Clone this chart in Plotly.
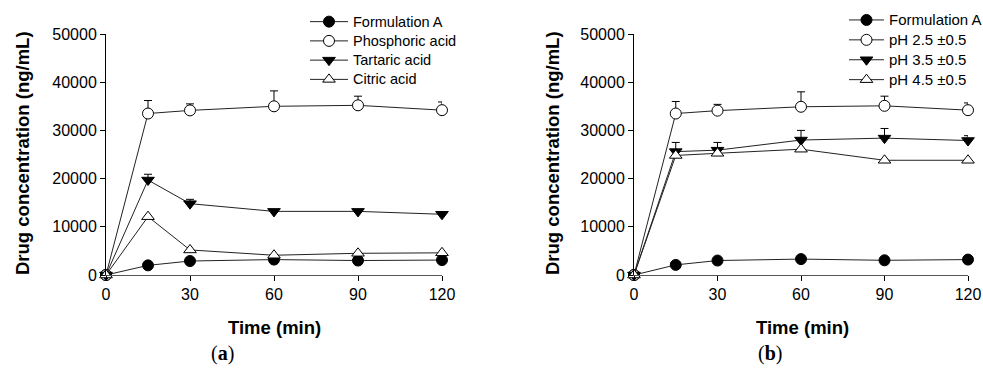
import plotly.graph_objects as go

W, H = 983, 374

time_min = [0, 15, 30, 60, 90, 120]
x_ticks = [0, 30, 60, 90, 120]
y_ticks = [0, 10000, 20000, 30000, 40000, 50000]

# Panel (a)
a_names = ["Formulation A", "Phosphoric acid", "Tartaric acid", "Citric acid"]
a_form = [0, 2000, 2900, 3200, 3000, 3100]
a_phos = [0, 33500, 34150, 35000, 35200, 34200]
a_phos_sd = [0, 2700, 1350, 3200, 1900, 1700]
a_tart = [0, 19700, 14800, 13200, 13200, 12600]
a_tart_sd = [0, 1200, 900, 0, 0, 0]
a_citr = [0, 12100, 5200, 4100, 4500, 4600]
a_citr_sd = [0, 0, 0, 0, 0, 0]
a_form_sd = [0, 0, 0, 0, 0, 0]

# Panel (b)
b_names = ["Formulation A", "pH 2.5 \u00b10.5", "pH 3.5 \u00b10.5", "pH 4.5 \u00b10.5"]
b_form = [0, 2100, 3000, 3300, 3050, 3200]
b_form_sd = [0, 0, 0, 0, 0, 0]
b_ph25 = [0, 33500, 34100, 34900, 35100, 34200]
b_ph25_sd = [0, 2500, 1300, 3100, 2000, 1500]
b_ph35 = [0, 25600, 25900, 28000, 28400, 27900]
b_ph35_sd = [0, 1900, 1600, 2000, 2000, 1000]
b_ph45 = [0, 24800, 25250, 26100, 23800, 23800]
b_ph45_sd = [0, 0, 0, 0, 0, 0]

styles = [
    dict(symbol="circle", color="black"),
    dict(symbol="circle", color="white"),
    dict(symbol="triangle-down", color="black"),
    dict(symbol="triangle-up", color="white"),
]

FONT = "Liberation Sans, Arial, sans-serif"

fig = go.Figure()

def add_series(names, ys, sds, xa, ya, legend, text_px):
    for name, y, sd, st in zip(names, ys, sds, styles):
        fig.add_trace(go.Scatter(
            x=time_min, y=y, mode="lines+markers",
            name=f'<span style="font-size:{text_px}px">{name}</span>',
            xaxis=xa, yaxis=ya, legend=legend, cliponaxis=False,
            line=dict(color="#222222", width=1),
            marker=dict(symbol=st["symbol"], size=11, color=st["color"],
                        line=dict(color="black", width=1)),
            error_y=dict(type="data", symmetric=False, array=sd,
                         arrayminus=[0] * len(sd), color="black",
                         thickness=1, width=4),
        ))

add_series(a_names, [a_form, a_phos, a_tart, a_citr],
           [a_form_sd, a_phos_sd, a_tart_sd, a_citr_sd], "x", "y", "legend", 14.5)
add_series(b_names, [b_form, b_ph25, b_ph35, b_ph45],
           [b_form_sd, b_ph25_sd, b_ph35_sd, b_ph45_sd], "x2", "y2", "legend2", 15)

def px(xp):
    return xp / W

def py(yp):
    return 1 - yp / H

ydom = [py(275), py(34)]

xaxis_common = dict(range=[0, 120], tickvals=x_ticks, ticks="outside", ticklen=5,
                    tickcolor="black", showline=True, linecolor="#555555", linewidth=1,
                    showgrid=False, zeroline=False, automargin=False,
                    tickfont=dict(family=FONT, size=16, color="black"))
yaxis_common = dict(range=[0, 50000], tickvals=y_ticks, tickformat="d", ticks="outside",
                    ticklen=5, tickcolor="black", showline=True, linecolor="black",
                    linewidth=1, showgrid=False, zeroline=False, automargin=False,
                    tickfont=dict(family=FONT, size=16, color="black"))

legend_common = dict(bgcolor="rgba(0,0,0,0)", xanchor="left", yanchor="top",
                     tracegroupgap=0, itemclick=False, itemdoubleclick=False)

fig.update_layout(
    width=W, height=H,
    margin=dict(l=0, r=0, t=0, b=0, autoexpand=False),
    paper_bgcolor="white", plot_bgcolor="white",
    xaxis=dict(domain=[px(106), px(442)], anchor="y", **xaxis_common),
    yaxis=dict(domain=ydom, anchor="x", **yaxis_common),
    xaxis2=dict(domain=[px(634), px(968)], anchor="y2", **xaxis_common),
    yaxis2=dict(domain=ydom, anchor="x2", **yaxis_common),
    legend=dict(x=px(305), y=py(7), itemwidth=38,
                font=dict(family=FONT, size=12.5, color="black"), **legend_common),
    legend2=dict(x=px(844), y=py(5), itemwidth=35,
                 font=dict(family=FONT, size=13, color="black"), **legend_common),
    showlegend=True,
)

title_font = dict(family=FONT, size=18.5, color="black")
label_font = dict(family="Liberation Serif, Times New Roman, serif", size=20, color="black")
annotations = [
    dict(text="<b>Time (min)</b>", x=px(274), y=py(327), font=title_font),
    dict(text="<b>Time (min)</b>", x=px(802), y=py(327), font=title_font),
    dict(text="<b>Drug concentration (ng/mL)</b>", x=px(22), y=py(153), textangle=-90, font=title_font),
    dict(text="<b>Drug concentration (ng/mL)</b>", x=px(552), y=py(153), textangle=-90, font=title_font),
    dict(text="(<b>a</b>)", x=px(222), y=py(353), font=label_font),
    dict(text="(<b>b</b>)", x=px(770), y=py(353), font=label_font),
]
for a in annotations:
    a.update(xref="paper", yref="paper", showarrow=False, xanchor="center", yanchor="middle")
fig.update_layout(annotations=annotations)

fig.write_html("out.html", config={"displayModeBar": False},
               post_script="document.body.style.margin='0px';document.body.style.overflow='hidden';")
